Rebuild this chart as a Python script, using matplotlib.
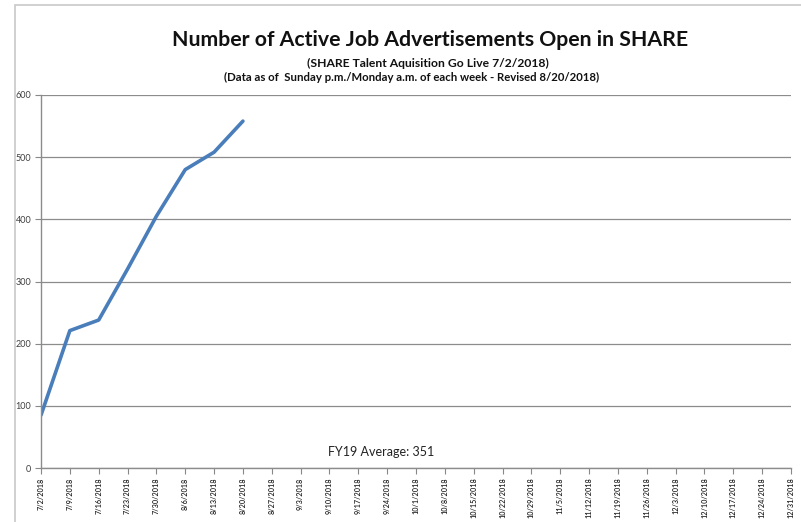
import matplotlib
matplotlib.use("Agg")
import matplotlib.pyplot as plt
from matplotlib.patches import Rectangle

plt.rcParams['font.family'] = ['Lato', 'DejaVu Sans']

weeks = ["7/2/2018", "7/9/2018", "7/16/2018", "7/23/2018", "7/30/2018", "8/6/2018",
         "8/13/2018", "8/20/2018", "8/27/2018", "9/3/2018", "9/10/2018", "9/17/2018",
         "9/24/2018", "10/1/2018", "10/8/2018", "10/15/2018", "10/22/2018", "10/29/2018",
         "11/5/2018", "11/12/2018", "11/19/2018", "11/26/2018", "12/3/2018", "12/10/2018",
         "12/17/2018", "12/24/2018", "12/31/2018"]
active_ads = [85, 221, 238, 320, 405, 480, 508, 558]
y_ticks = [0, 100, 200, 300, 400, 500, 600]

W, H = 801, 522
fig = plt.figure(figsize=(W / 100, H / 100), dpi=100)

# outer chart frame
fig.patches.append(Rectangle((15 / W, -0.05), 1.1, (H - 5) / H + 0.05, transform=fig.transFigure,
                             fill=False, edgecolor='#c8c8c8', linewidth=1.2))

left, right, top, bottom = 41, 791, 95, 468
ax = fig.add_axes([left / W, 1 - bottom / H, (right - left) / W, (bottom - top) / H])

x = list(range(len(active_ads)))
ax.plot(x, active_ads, color='#4a7ebb', linewidth=2.6, solid_capstyle='round')

ax.set_xlim(0, len(weeks) - 1)
ax.set_ylim(0, 600)
ax.set_yticks(y_ticks)
ax.set_yticklabels([str(v) for v in y_ticks], fontsize=6.5, color='#404040')
ax.set_xticks(range(len(weeks)))
ax.set_xticklabels(weeks, rotation=90, fontsize=5.2, color='#202020', fontweight='semibold')
ax.tick_params(axis='y', length=4, color='#888888', pad=3)
ax.tick_params(axis='x', length=4, color='#888888', pad=3)
ax.grid(axis='y', color='#8c8c8c', linewidth=0.9)
ax.set_axisbelow(True)
for s in ['top', 'right']:
    ax.spines[s].set_visible(False)
for s in ['left', 'bottom']:
    ax.spines[s].set_color('#8c8c8c')
    ax.spines[s].set_linewidth(1.0)

fig.text(430 / W, 1 - 40 / H, "Number of Active Job Advertisements Open in SHARE",
         ha='center', va='center', fontsize=15.3, fontweight='bold', color='#111111')
fig.text(428 / W, 1 - 63 / H, "(SHARE Talent Aquisition Go Live 7/2/2018)",
         ha='center', va='center', fontsize=8.7, fontweight='bold', color='#111111')
fig.text(412 / W, 1 - 77 / H, "(Data as of  Sunday p.m./Monday a.m. of each week - Revised 8/20/2018)",
         ha='center', va='center', fontsize=8.2, fontweight='bold', color='#111111')
fig.text(381 / W, 1 - 452 / H, "FY19 Average: 351", ha='center', va='center',
         fontsize=9, color='#222222')

fig.savefig("out.png", dpi=100, facecolor='white')
